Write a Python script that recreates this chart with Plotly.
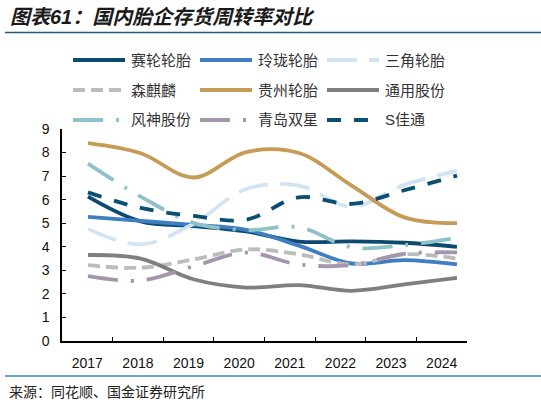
import plotly.graph_objects as go

# inventory turnover
years = [2017, 2018, 2019, 2020, 2021, 2022, 2023, 2024]
year_labels = [str(y) for y in years]

sailun = [6.13, 5.08, 4.88, 4.65, 4.22, 4.23, 4.17, 4.00]
linglong = [5.27, 5.10, 4.93, 4.72, 4.05, 3.29, 3.43, 3.25]
sanjiao = [4.76, 4.10, 4.98, 6.45, 6.60, 5.70, 6.63, 7.22]
senqilin = [3.22, 3.11, 3.46, 3.89, 3.68, 3.25, 3.68, 3.50]
guizhou = [8.40, 7.97, 6.94, 8.02, 7.98, 6.60, 5.25, 5.00]
tongyong = [3.65, 3.50, 2.62, 2.27, 2.37, 2.13, 2.40, 2.68]
fengshen = [7.53, 6.13, 5.02, 4.71, 4.83, 3.98, 4.07, 4.38]
qingdao = [2.75, 2.57, 3.17, 3.75, 3.25, 3.22, 3.70, 3.76]
sjiatong = [6.31, 5.65, 5.31, 5.15, 6.10, 5.82, 6.40, 7.02]

names = ["赛轮轮胎", "玲珑轮胎", "三角轮胎",
         "森麒麟", "贵州轮胎", "通用股份",
         "风神股份", "青岛双星", "S佳通"]
series = [sailun, linglong, sanjiao, senqilin, guizhou, tongyong,
          fengshen, qingdao, sjiatong]
colors = ["#0c4a70", "#3e7fc1", "#d2e3f3",
          "#bcbcbc", "#c59b55", "#7f7f7f",
          "#8fc1c7", "#a696ad", "#0a4e74"]
longdashdot = "30px,13px,3px,13px"
dashes = ["solid", "solid", "30px,12px",
          "12px,6px", "solid", "solid",
          longdashdot, longdashdot, "14px,13px"]

W, H = 541, 404
L, R, T, B = 62, 467, 129, 341   # plot area in pixels

def px_x(x):
    return (x - L) / (R - L)

def px_y(y):
    return (B - y) / (B - T)

font_fam = "Liberation Sans, Arial, Noto Sans CJK SC, sans-serif"

fig = go.Figure()
# empty trace so the category axis gets its labels
fig.add_trace(go.Scatter(x=year_labels, y=[None] * len(years),
                         showlegend=False, hoverinfo="skip"))

for name, vals, c, d in zip(names, series, colors, dashes):
    fig.add_trace(go.Scatter(x=years, y=vals, name=name, xaxis="x2",
                             mode="lines", showlegend=False,
                             line=dict(color=c, width=3.8, dash=d,
                                       shape="spline", smoothing=1)))

# legend drawn by hand: 3 x 3 grid
col_x = [73, 200, 327]
row_y = [60, 90, 120]
for i, (name, c, d) in enumerate(zip(names, colors, dashes)):
    x0 = col_x[i % 3]
    y0 = row_y[i // 3]
    fig.add_shape(type="line", xref="paper", yref="paper",
                  x0=px_x(x0), x1=px_x(x0 + 52), y0=px_y(y0), y1=px_y(y0),
                  line=dict(color=c, width=3.8, dash=d))
    fig.add_annotation(xref="paper", yref="paper", x=px_x(x0 + 56), y=px_y(y0),
                       xanchor="left", yanchor="middle", showarrow=False,
                       text=name, font=dict(size=15, color="#333333"))

# title, rules, source
fig.add_annotation(xref="paper", yref="paper", x=px_x(8), y=px_y(17),
                   xanchor="left", yanchor="middle", showarrow=False,
                   text="<b><i>图表61：国内胎企存货周转率对比</i></b>",
                   font=dict(size=20, color="#1a1a1a"))
fig.add_shape(type="line", xref="paper", yref="paper",
              x0=px_x(5), x1=px_x(541), y0=px_y(32.5), y1=px_y(32.5),
              line=dict(color="#1f5a7c", width=1.5))
fig.add_shape(type="line", xref="paper", yref="paper",
              x0=px_x(5), x1=px_x(541), y0=px_y(376), y1=px_y(376),
              line=dict(color="#3f85bb", width=1.5))
fig.add_annotation(xref="paper", yref="paper", x=px_x(7), y=px_y(392),
                   xanchor="left", yanchor="middle", showarrow=False,
                   text="来源：同花顺、国金证券研究所",
                   font=dict(size=14, color="#222222"))

fig.update_layout(
    width=W, height=H,
    margin=dict(l=L, r=W - R, t=T, b=H - B, pad=0),
    paper_bgcolor="white", plot_bgcolor="white",
    font=dict(family=font_fam, size=14, color="#111111"),
    showlegend=False,
    xaxis=dict(type="category", categoryorder="array", categoryarray=year_labels,
               range=[-0.5, 7.5], tickson="boundaries", ticks="inside",
               ticklen=4, tickwidth=1.3, tickcolor="#000000",
               showline=True, linecolor="#000000", linewidth=1.5,
               showgrid=False, zeroline=False, ticklabelstandoff=8,
               tickfont=dict(size=14, color="#111111"), fixedrange=True),
    xaxis2=dict(overlaying="x", range=[2017 - 0.493, 2017 + 7.19],
                visible=False, fixedrange=True),
    yaxis=dict(range=[0, 9], dtick=1, ticks="inside", ticklen=4,
               tickwidth=1.3, tickcolor="#000000",
               showline=True, linecolor="#000000", linewidth=1.5,
               showgrid=False, zeroline=False, ticklabelstandoff=8,
               tickfont=dict(size=14, color="#111111"), fixedrange=True),
)

# page body has an 8px default margin; drop it so the figure sits at 0,0
fig.write_html("out.html", config={"displayModeBar": False},
               post_script="document.body.style.margin='0';")
